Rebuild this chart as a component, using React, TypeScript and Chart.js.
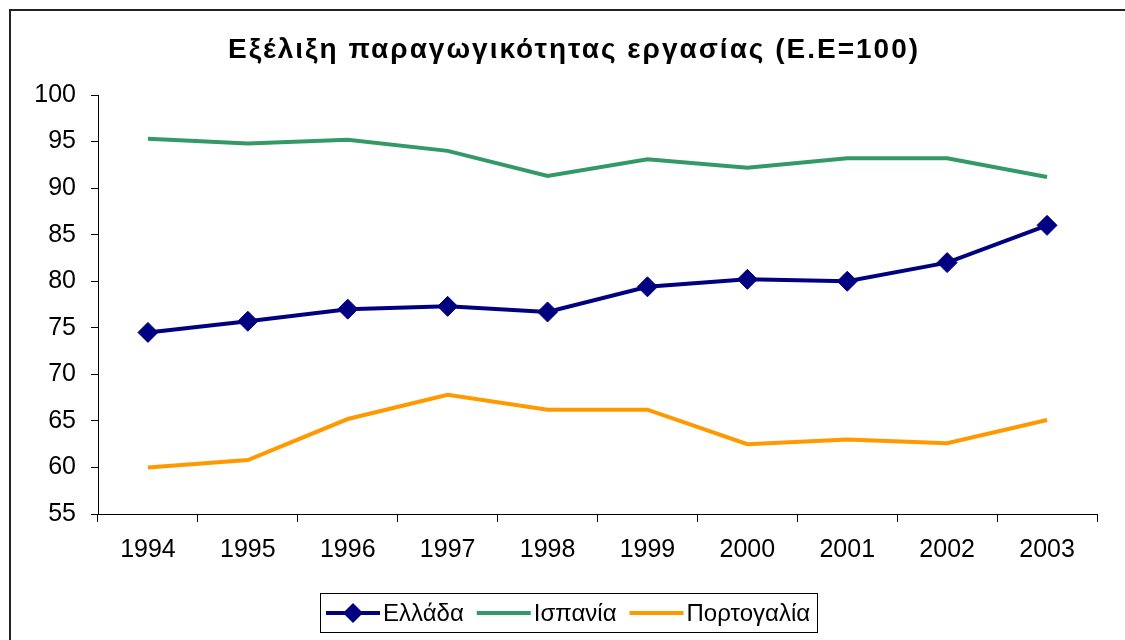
import React, { useEffect, useRef } from "react";
import { Chart, registerables } from "chart.js";

Chart.register(...registerables);

const TITLE = "Εξέλιξη παραγωγικότητας εργασίας (Ε.Ε=100)";
const YEARS = ["1994", "1995", "1996", "1997", "1998", "1999", "2000", "2001", "2002", "2003"];
const GREECE = [74.5, 75.7, 77.0, 77.3, 76.7, 79.4, 80.2, 80.0, 82.0, 86.0];
const SPAIN = [95.3, 94.8, 95.2, 94.0, 91.3, 93.1, 92.2, 93.2, 93.2, 91.2];
const PORTUGAL = [60.0, 60.8, 65.2, 67.8, 66.2, 66.2, 62.5, 63.0, 62.6, 65.1];
const SERIES_NAMES = ["Ελλάδα", "Ισπανία", "Πορτογαλία"];
const COLORS = ["#000080", "#339966", "#FF9900"];

const FONT = '"Liberation Sans", Arial, sans-serif';

const decorPlugin = {
  id: "decor",
  afterDraw(chart: any) {
    const ctx = chart.ctx as CanvasRenderingContext2D;
    ctx.save();
    // outer border
    ctx.strokeStyle = "#222";
    ctx.lineWidth = 2;
    ctx.strokeRect(10, 10, 1400, 1000);

    // title
    ctx.fillStyle = "#000";
    ctx.font = `bold 28px ${FONT}`;
    (ctx as any).letterSpacing = "2px";
    ctx.textAlign = "center";
    ctx.textBaseline = "middle";
    ctx.fillText(TITLE, 574, 50);
    (ctx as any).letterSpacing = "0px";

    // legend
    ctx.strokeStyle = "#000";
    ctx.lineWidth = 1;
    ctx.strokeRect(320.5, 593.5, 497, 39);
    ctx.font = `24px ${FONT}`;
    ctx.textAlign = "left";
    ctx.textBaseline = "middle";
    const cy = 613;
    let x = 326;
    SERIES_NAMES.forEach((name, i) => {
      ctx.strokeStyle = COLORS[i];
      ctx.lineWidth = 4;
      ctx.beginPath();
      ctx.moveTo(x, cy);
      ctx.lineTo(x + 54, cy);
      ctx.stroke();
      if (i === 0) {
        const cx = x + 27;
        const r = 10;
        ctx.fillStyle = COLORS[i];
        ctx.beginPath();
        ctx.moveTo(cx - r, cy);
        ctx.lineTo(cx, cy - r);
        ctx.lineTo(cx + r, cy);
        ctx.lineTo(cx, cy + r);
        ctx.closePath();
        ctx.fill();
      }
      ctx.fillStyle = "#000";
      ctx.fillText(name, x + 57, cy + 1);
      x += 57 + ctx.measureText(name).width + 13;
    });
    ctx.restore();
  },
};

export default function App() {
  const ref = useRef<HTMLCanvasElement>(null);
  useEffect(() => {
    if (!ref.current) return;
    const chart = new Chart(ref.current, {
      type: "line",
      data: {
        labels: YEARS,
        datasets: [
          {
            label: SERIES_NAMES[0],
            data: GREECE,
            borderColor: COLORS[0],
            backgroundColor: COLORS[0],
            borderWidth: 4,
            pointStyle: "rectRot",
            pointRadius: 10,
            pointBorderWidth: 1,
            pointBackgroundColor: COLORS[0],
            pointBorderColor: COLORS[0],
            tension: 0,
          },
          {
            label: SERIES_NAMES[1],
            data: SPAIN,
            borderColor: COLORS[1],
            backgroundColor: COLORS[1],
            borderWidth: 4,
            pointRadius: 0,
            tension: 0,
          },
          {
            label: SERIES_NAMES[2],
            data: PORTUGAL,
            borderColor: COLORS[2],
            backgroundColor: COLORS[2],
            borderWidth: 4,
            pointRadius: 0,
            tension: 0,
          },
        ],
      },
      options: {
        responsive: false,
        animation: false,
        devicePixelRatio: 1,
        layout: { padding: { top: 95, left: 0, right: 28, bottom: 0 } },
        plugins: {
          legend: { display: false },
          title: { display: false },
          tooltip: { enabled: false },
        },
        scales: {
          x: {
            type: "category",
            offset: true,
            grid: {
              offset: true,
              drawOnChartArea: false,
              drawTicks: true,
              tickLength: 8,
              color: "#000",
              lineWidth: 1,
            },
            border: { display: true, color: "#000", width: 1 },
            ticks: {
              color: "#000",
              font: { family: FONT, size: 25 },
              padding: 13,
              maxRotation: 0,
              autoSkip: false,
            },
            afterFit(scale: any) {
              scale.height = 126;
            },
          },
          y: {
            min: 55,
            max: 100,
            grid: {
              drawOnChartArea: false,
              drawTicks: true,
              tickLength: 7,
              color: "#000",
              lineWidth: 1,
            },
            border: { display: true, color: "#000", width: 1 },
            ticks: {
              stepSize: 5,
              color: "#000",
              font: { family: FONT, size: 25 },
              padding: 15,
            },
            afterFit(scale: any) {
              scale.width = 98;
            },
          },
        },
      },
      plugins: [decorPlugin],
    });
    return () => chart.destroy();
  }, []);
  return (
    <div style={{ position: "absolute", left: 0, top: 0, width: 1125, height: 640, background: "#fff" }}>
      <canvas ref={ref} width={1125} height={640} style={{ display: "block" }} />
    </div>
  );
}
